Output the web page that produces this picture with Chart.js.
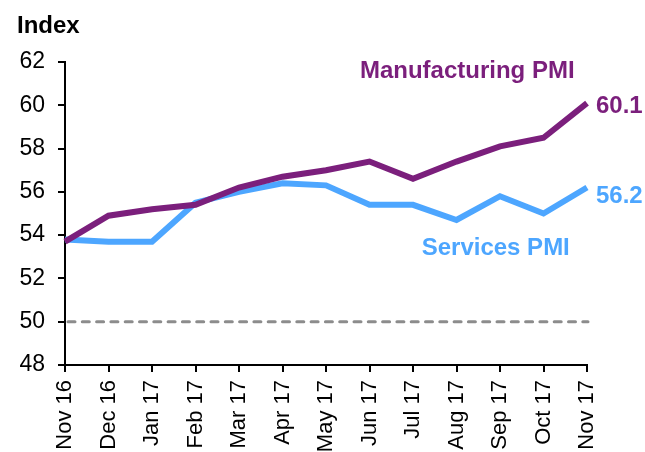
<!DOCTYPE html>
<html>
<head>
<meta charset="utf-8">
<script src="https://cdn.jsdelivr.net/npm/chart.js@4.4.1/dist/chart.umd.min.js"></script>
<style>
  html, body { margin: 0; padding: 0; background: #fff; }
  #wrap { width: 645px; height: 452px; position: relative; }
</style>
</head>
<body>
<div id="wrap"><canvas id="pmiChart" width="645" height="452"></canvas></div>
<script>
const months = ["Nov 16", "Dec 16", "Jan 17", "Feb 17", "Mar 17", "Apr 17", "May 17",
  "Jun 17", "Jul 17", "Aug 17", "Sep 17", "Oct 17", "Nov 17"];
const manufacturingPmi = [53.7, 54.9, 55.2, 55.4, 56.2, 56.7, 57.0, 57.4, 56.6, 57.4, 58.1, 58.5, 60.1];
const servicesPmi = [53.8, 53.7, 53.7, 55.5, 56.0, 56.4, 56.3, 55.4, 55.4, 54.7, 55.8, 55.0, 56.2];
const yTicks = [48, 50, 52, 54, 56, 58, 60, 62];
const neutralLevel = 50;

const PURPLE = "#7b1f7c";
const BLUE = "#4da6ff";
const FONT = "'Liberation Sans', Arial, sans-serif";

// reference line at 50, the index and series labels
const extras = {
  id: "extras",
  beforeDatasetsDraw(chart) {
    const { ctx, chartArea, scales } = chart;
    const y = scales.y.getPixelForValue(neutralLevel);
    ctx.save();
    ctx.strokeStyle = "#8c8c8c";
    ctx.lineWidth = 3;
    ctx.lineCap = "round";
    ctx.setLineDash([7, 7.3]);
    ctx.beginPath();
    ctx.moveTo(chartArea.left + 3, y);
    ctx.lineTo(chartArea.right + 1, y);
    ctx.stroke();
    ctx.restore();
  },
  afterDraw(chart) {
    const { ctx, scales } = chart;
    const last = months.length - 1;
    const endX = scales.x.getPixelForValue(last) + 9;
    ctx.save();
    ctx.textBaseline = "alphabetic";
    ctx.textAlign = "left";

    ctx.fillStyle = "#000";
    ctx.font = "bold 24px " + FONT;
    ctx.fillText("Index", 17, 33);

    ctx.fillStyle = PURPLE;
    ctx.fillText("Manufacturing PMI", scales.x.getPixelForValue(6.78), scales.y.getPixelForValue(61.25));
    ctx.fillText(String(manufacturingPmi[last]), endX, scales.y.getPixelForValue(manufacturingPmi[last]) + 10);

    ctx.fillStyle = BLUE;
    ctx.fillText("Services PMI", scales.x.getPixelForValue(8.2), scales.y.getPixelForValue(53.1));
    ctx.fillText(String(servicesPmi[last]), endX, scales.y.getPixelForValue(servicesPmi[last]) + 15);
    ctx.restore();
  }
};

new Chart(document.getElementById("pmiChart"), {
  type: "line",
  data: {
    labels: months,
    datasets: [
      { label: "Manufacturing PMI", data: manufacturingPmi, borderColor: PURPLE, borderWidth: 6 },
      { label: "Services PMI", data: servicesPmi, borderColor: BLUE, borderWidth: 6 }
    ]
  },
  options: {
    responsive: false,
    animation: false,
    events: [],
    layout: { padding: { top: 62, right: 58, left: 0, bottom: 0 } },
    elements: {
      point: { radius: 0 },
      line: { tension: 0, borderCapStyle: "butt", borderJoinStyle: "miter" }
    },
    plugins: { legend: { display: false }, tooltip: { enabled: false } },
    scales: {
      x: {
        offset: false,
        afterFit(scale) { scale.height = 87; },
        grid: { display: true, drawOnChartArea: false, drawTicks: true, tickLength: 7, color: "#000", lineWidth: 2 },
        border: { display: true, color: "#000", width: 2 },
        ticks: {
          color: "#000",
          font: { family: FONT, size: 22 },
          minRotation: 90,
          maxRotation: 90,
          autoSkip: false,
          padding: 8
        }
      },
      y: {
        min: yTicks[0],
        max: yTicks[yTicks.length - 1],
        afterFit(scale) { scale.width = 65; },
        afterBuildTicks(scale) { scale.ticks = yTicks.map(v => ({ value: v })); },
        grid: { display: true, drawOnChartArea: false, drawTicks: true, tickLength: 7, color: "#000", lineWidth: 2 },
        border: { display: true, color: "#000", width: 2 },
        ticks: {
          color: "#000",
          font: { family: FONT, size: 23 },
          padding: 13
        }
      }
    }
  },
  plugins: [extras]
});
</script>
</body>
</html>
